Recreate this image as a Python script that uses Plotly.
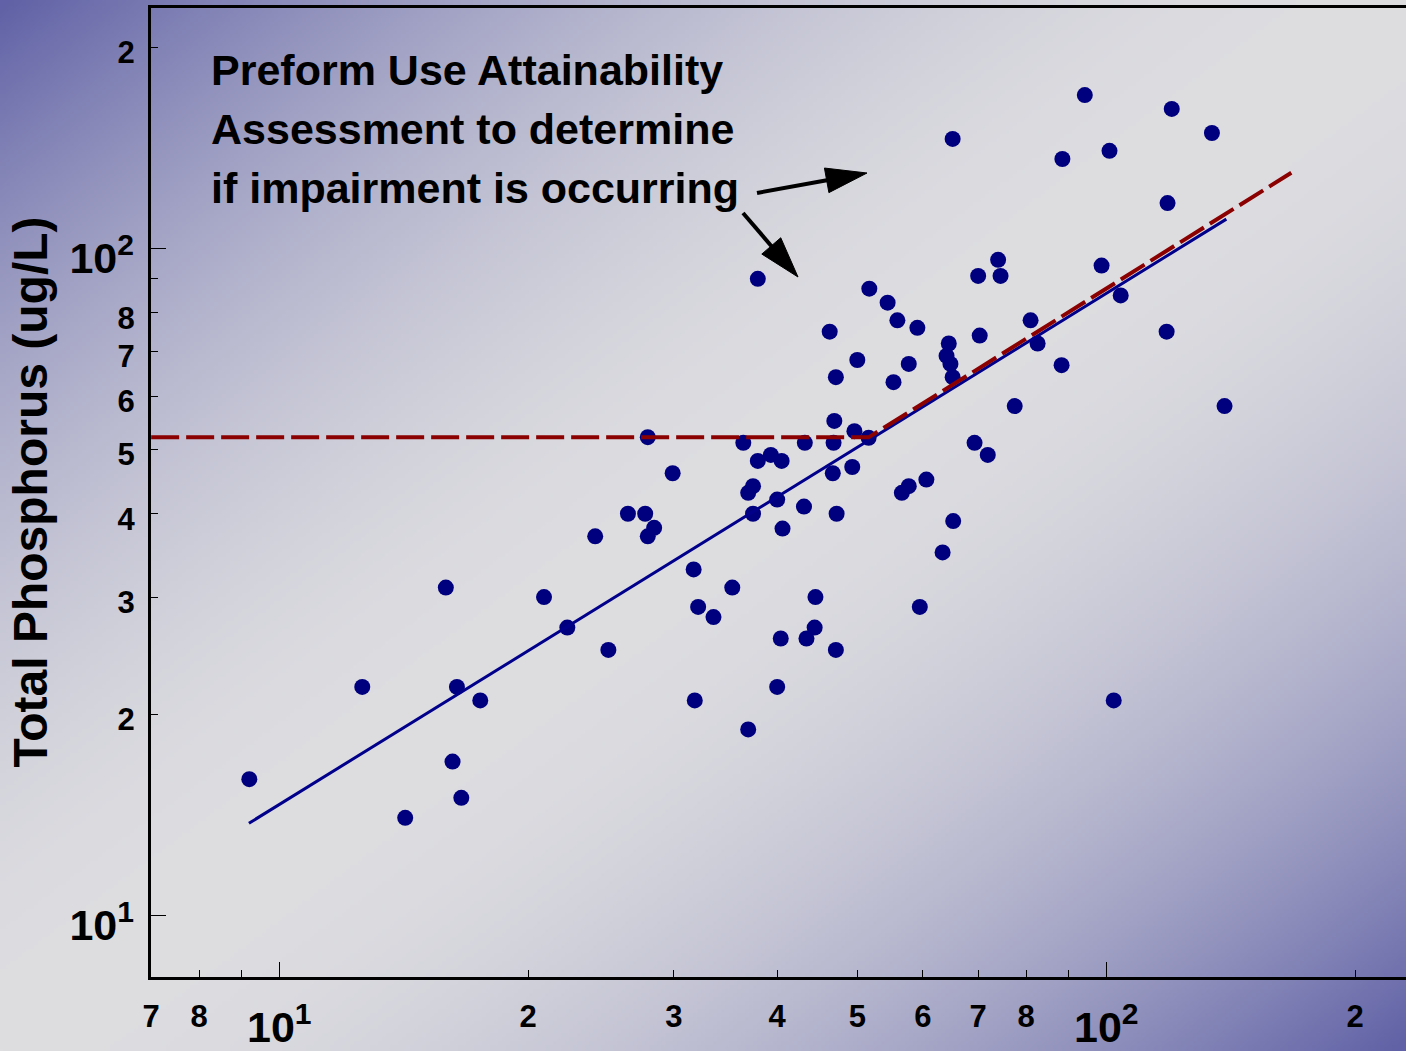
import base64
import math
import struct
import zlib

import numpy as np
import plotly.graph_objects as go

# ---------------- data ----------------
x_vals = [9.2, 12.6, 14.2, 15.9, 16.2, 16.4, 16.6, 17.5, 20.9, 22.3,
          24.1, 25.0, 26.4, 27.7, 27.9, 27.9, 28.4, 29.9, 31.7, 32.1,
          31.8, 33.5, 35.3, 36.4, 36.9, 36.9, 37.4, 37.4, 37.9, 37.9,
          39.3, 40.0, 40.0, 40.4, 40.5, 40.6, 43.1, 43.2, 43.4, 44.4,
          44.5, 46.3, 46.7, 46.9, 46.8, 47.1, 47.2, 47.1, 49.3, 49.6,
          50.0, 51.7, 51.6, 54.4, 55.3, 55.9, 56.6, 57.7, 57.7, 59.1,
          59.5, 60.6, 63.4, 64.5, 64.1, 64.8, 65.2, 65.2, 65.3, 69.3,
          70.0, 70.3, 71.9, 74.0, 74.5, 77.5, 81.0, 82.6, 88.3, 88.5,
          94.2, 98.7, 100.9, 102.1, 104.1, 118.3, 118.6, 120.0, 134.2, 139.0]
y_vals = [16.0, 22.0, 14.0, 31.0, 17.0, 22.0, 15.0, 21.0, 30.0, 27.0,
          37.0, 25.0, 40.0, 40.0, 37.0, 52.1, 38.1, 46.0, 33.0, 29.0,
          21.0, 28.0, 31.0, 51.1, 19.0, 43.0, 44.0, 40.0, 48.0, 90.0,
          49.0, 42.0, 22.0, 26.0, 48.0, 38.0, 41.0, 51.1, 26.0, 27.0,
          30.0, 75.0, 46.0, 55.1, 51.1, 64.1, 40.0, 25.0, 47.0, 53.2,
          68.0, 87.0, 52.0, 82.9, 63.0, 78.0, 43.0, 44.0, 67.1, 76.0,
          29.0, 45.0, 35.0, 72.0, 69.0, 67.1, 64.1, 145.9, 39.0, 51.1,
          90.9, 74.0, 49.0, 96.1, 90.9, 58.0, 78.0, 72.0, 66.8, 136.1,
          169.7, 94.2, 140.0, 21.0, 85.0, 75.0, 116.9, 161.8, 148.9, 58.0]

# regression line (solid) and criterion line (dashed)
fit_x = [9.19, 139.7]
fit_y = [13.74, 110.6]
crit_x = [7.0, 51.6, 167.4]
crit_y = [52.07, 52.07, 129.8]

# digit tick labels
x_tickvals = [7, 8, 20, 30, 40, 50, 60, 70, 80, 200]
x_ticklabels = ['7', '8', '2', '3', '4', '5', '6', '7', '8', '2']
x_unlabeled = [9, 90]
y_tickvals = [20, 30, 40, 50, 60, 70, 80, 200]
y_ticklabels = ['2', '3', '4', '5', '6', '7', '8', '2']
y_unlabeled = [90]
# decade tick labels
decades = [10, 100]
decade_labels = ['10^1', '10^2']

y_title = 'Total Phosphorus (ug/L)'
note_lines = ['Preform Use Attainability', 'Assessment to determine', 'if impairment is occurring']

# ---------------- layout geometry ----------------
W, H = 1406, 1051
L, R, T, B = 151, 0, 8, 74
PW, PH = W - L - R, H - T - B
FONT = 'Liberation Sans, Arial, sans-serif'


def px2paper(px, py):
    return (px - L) / PW, (H - B - py) / PH


def fmt(label):
    if '^' in label:
        base, exp = label.split('^')
        return f"{base}<sup>{exp}</sup>"
    return label


def gradient_uri(w=352, h=263):
    u = np.linspace(0, 1, w)[None, :]
    v = np.linspace(0, 1, h)[:, None]
    d = np.abs(u + v - 1.0)
    f = d ** 1.9
    light = np.array([222, 222, 225], dtype=float)
    dark = np.array([96, 97, 166], dtype=float)
    img = light[None, None, :] + (dark - light)[None, None, :] * f[..., None]
    img = np.clip(img, 0, 255).astype(np.uint8)
    raw = b''.join(b'\x00' + img[r].tobytes() for r in range(h))

    def chunk(tag, data):
        return (struct.pack('>I', len(data)) + tag + data +
                struct.pack('>I', zlib.crc32(tag + data) & 0xffffffff))

    png = (b'\x89PNG\r\n\x1a\n' +
           chunk(b'IHDR', struct.pack('>IIBBBBB', w, h, 8, 2, 0, 0, 0)) +
           chunk(b'IDAT', zlib.compress(raw, 9)) +
           chunk(b'IEND', b''))
    return 'data:image/png;base64,' + base64.b64encode(png).decode()


def arrow_shapes(tail, tip, head_len=41, head_w=25, lw=4):
    dx, dy = tip[0] - tail[0], tip[1] - tail[1]
    n = math.hypot(dx, dy)
    ux, uy = dx / n, dy / n
    bx, by = tip[0] - ux * head_len, tip[1] - uy * head_len
    px_, py_ = -uy, ux
    p1 = (bx + px_ * head_w / 2, by + py_ * head_w / 2)
    p2 = (bx - px_ * head_w / 2, by - py_ * head_w / 2)
    t0 = px2paper(*tail)
    t1 = px2paper(bx + ux * 3, by + uy * 3)
    a, b_, c = px2paper(*tip), px2paper(*p1), px2paper(*p2)
    return [
        dict(type='line', xref='paper', yref='paper', x0=t0[0], y0=t0[1],
             x1=t1[0], y1=t1[1], line=dict(color='black', width=lw)),
        dict(type='path', xref='paper', yref='paper',
             path=f'M {a[0]},{a[1]} L {b_[0]},{b_[1]} L {c[0]},{c[1]} Z',
             fillcolor='black', line=dict(color='black', width=1)),
    ]


fig = go.Figure()

fig.add_trace(go.Scatter(x=x_vals, y=y_vals, mode='markers',
                         marker=dict(size=16, color='#00007f'),
                         showlegend=False, hoverinfo='skip'))
fig.add_trace(go.Scatter(x=fit_x, y=fit_y, mode='lines',
                         line=dict(color='#00008b', width=3),
                         showlegend=False, hoverinfo='skip'))
fig.add_trace(go.Scatter(x=crit_x, y=crit_y, mode='lines',
                         line=dict(color='#8b0000', width=4, dash='28px,7px'),
                         showlegend=False, hoverinfo='skip'))
fig.add_trace(go.Scatter(x=[], y=[], xaxis='x2', yaxis='y2',
                         showlegend=False, hoverinfo='skip'))

xr = [0.8449, 0.8449 + PW / 827.0]
yr = [0.9075, 2.3603]
tickfont = dict(family=FONT, size=31, color='black', weight='bold')
decfont = dict(family=FONT, size=43, color='black', weight='bold')
minor_common = dict(ticks='inside', ticklen=7, tickwidth=1, tickcolor='black',
                    showgrid=False)

fig.update_layout(
    width=W, height=H,
    margin=dict(l=L, r=R, t=T, b=B, autoexpand=False),
    paper_bgcolor='#dedee1',
    plot_bgcolor='rgba(0,0,0,0)',
    showlegend=False,
    xaxis=dict(type='log', range=xr, tickmode='array', tickvals=x_tickvals,
               ticktext=x_ticklabels, automargin=False,
               ticks='inside', ticklen=7, tickwidth=1, tickcolor='black',
               minor=dict(tickmode='array', tickvals=x_unlabeled, **minor_common),
               showline=True, linewidth=3, linecolor='black', mirror=True,
               showgrid=False, zeroline=False, tickfont=tickfont,
               ticklabelstandoff=10),
    yaxis=dict(type='log', range=yr, tickmode='array', tickvals=y_tickvals,
               ticktext=y_ticklabels, automargin=False,
               ticks='inside', ticklen=7, tickwidth=1, tickcolor='black',
               minor=dict(tickmode='array', tickvals=y_unlabeled, **minor_common),
               showline=True, linewidth=3, linecolor='black',
               showgrid=False, zeroline=False, tickfont=tickfont,
               ticklabelstandoff=7, ticklabelshift=5),
    xaxis2=dict(type='log', range=xr, overlaying='x', anchor='y', side='bottom',
                tickmode='array', tickvals=decades, automargin=False,
                ticktext=[fmt(s) for s in decade_labels],
                ticks='inside', ticklen=15, tickwidth=1, tickcolor='black',
                tickfont=decfont, ticklabelstandoff=21,
                showline=False, showgrid=False, zeroline=False),
    yaxis2=dict(type='log', range=yr, overlaying='y', anchor='x', side='left',
                tickmode='array', tickvals=decades, automargin=False,
                ticktext=[fmt(s) for s in decade_labels],
                ticks='inside', ticklen=15, tickwidth=1, tickcolor='black',
                tickfont=decfont, ticklabelstandoff=16, ticklabelshift=10,
                showline=False, showgrid=False, zeroline=False),
)

fig.add_layout_image(dict(source=gradient_uri(), xref='paper', yref='paper',
                          x=-L / PW, y=1 + T / PH, sizex=W / PW, sizey=H / PH,
                          xanchor='left', yanchor='top', sizing='stretch',
                          layer='below'))

annotations = []
tx, _ = px2paper(30, 0)
annotations.append(dict(text=y_title, xref='paper', yref='paper', x=tx, y=0.5,
                        xanchor='center', yanchor='middle', textangle=-90,
                        showarrow=False,
                        font=dict(family=FONT, size=48, color='black', weight='bold')))
for i, line in enumerate(note_lines):
    ax_, ay_ = px2paper(209, 70 + 59 * i)
    annotations.append(dict(text=line, xref='paper', yref='paper', x=ax_, y=ay_,
                            xanchor='left', yanchor='middle', showarrow=False,
                            font=dict(family=FONT, size=43, color='black', weight='bold')))
fig.update_layout(annotations=annotations)

shapes = []
shapes += arrow_shapes((757, 193), (867, 173))
shapes += arrow_shapes((743, 213), (798, 277))
fig.update_layout(shapes=shapes)

fig.write_html('out.html')
